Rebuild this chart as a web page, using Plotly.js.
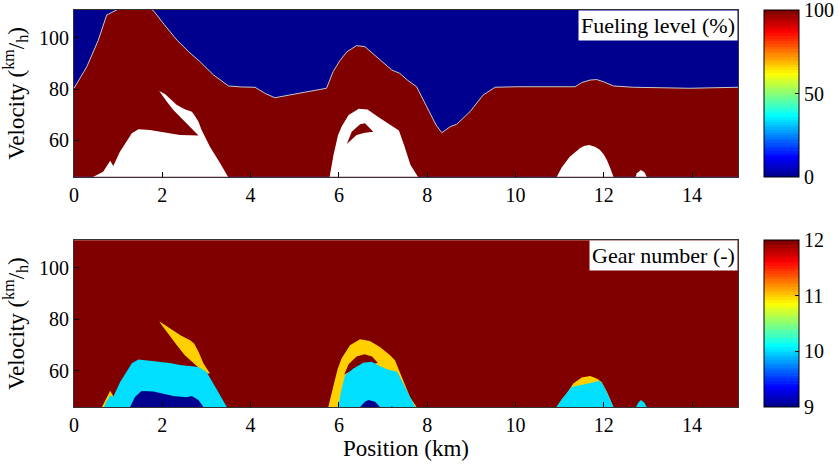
<!DOCTYPE html>
<html><head><meta charset="utf-8">
<script src="https://cdn.plot.ly/plotly-3.0.1.min.js"></script>
<style>html,body{margin:0;padding:0;background:#fff}
#chart text{font-family:'Liberation Serif' !important}</style>
</head><body><div id="chart" style="width:839px;height:464px"></div>
<script>
// ---------- data (position km, velocity km/h) ----------
const xTicks = [0, 2, 4, 6, 8, 10, 12, 14];
const yTicks = [60, 80, 100];
const fuelTicks = [0, 50, 100];
const gearTicks = [9, 10, 11, 12];
const fuelLevels = [0, 100];          // fueling level: 0 above edge, 100 below
const gearLevels = [9, 10, 11, 12];

// upper edge of the 100 % fueling region
const fuelEdgePos = [0, 0.29, 0.55, 0.74, 0.93, 1.1, 1.3, 1.5, 1.7, 1.8, 2.05, 2.33, 2.6, 2.85, 3.16, 3.5, 3.8, 4.1, 4.33, 4.55, 4.89, 5.3, 5.72, 5.87, 6.02, 6.18, 6.4, 6.59, 6.86, 7.2, 7.38, 7.55, 7.76, 8.06, 8.2, 8.33, 8.52, 8.67, 8.97, 9.27, 9.54, 10.03, 11.35, 11.5, 11.69, 11.84, 12.0, 12.22, 12.67, 13.3, 13.95, 14.5, 15.05];
const fuelEdgeVel = [80.3, 88.7, 99.0, 108.8, 110.5, 112, 113, 113, 111.5, 110.5, 105, 99.1, 94.5, 90.7, 85.5, 81.2, 80.8, 80.7, 78.3, 76.6, 77.7, 79.0, 80.3, 86.8, 91.0, 94.5, 96.9, 96.5, 92.6, 87.4, 86.1, 83.5, 80.9, 70.5, 66.0, 63.0, 65.3, 66.3, 71.2, 77.7, 80.7, 80.9, 80.9, 82.5, 83.5, 83.7, 82.8, 81.2, 80.7, 80.5, 80.3, 80.5, 80.7];

// infeasible (blank) regions in the fueling map
const blankAPos = [0.40, 0.44, 0.66, 0.82, 0.89, 1.04, 1.31, 1.46, 1.72, 2.17, 2.40, 2.82, 2.63, 2.44, 2.25, 2.10, 1.95, 1.93, 2.06, 2.17, 2.33, 2.51, 2.67, 2.74, 2.82, 2.89, 3.08, 3.31, 3.50, 3.55];
const blankAVel = [44, 45.8, 47.8, 52.1, 50.0, 55.6, 62.8, 64.3, 64.0, 62.8, 62.1, 61.9, 65.3, 68.6, 71.8, 75.1, 78.6, 79.2, 78.1, 76.4, 73.8, 72.1, 71.2, 69.5, 67.3, 64.0, 57.5, 51.1, 45.8, 44];
const blankBPos = [5.76, 5.79, 5.88, 5.98, 6.06, 6.22, 6.45, 6.65, 6.90, 7.18, 7.36, 7.48, 7.62, 7.79, 7.82];
const blankBVel = [44, 45.8, 54.5, 62.0, 65.3, 69.9, 72.3, 72.0, 69.0, 66.0, 63.8, 58.0, 50.5, 45.8, 44];
const fullBPos = [6.18, 6.29, 6.48, 6.59, 6.78, 6.59, 6.40];
const fullBVel = [58.6, 63.4, 66.3, 66.7, 63.4, 63.0, 62.1];
const blankCPos = [10.88, 10.93, 11.05, 11.23, 11.35, 11.46, 11.55, 11.67, 11.8, 11.91, 12.0, 12.07, 12.15, 12.22, 12.26];
const blankCVel = [44, 45.8, 49.5, 53.6, 55.5, 56.9, 57.8, 58.2, 57.5, 56.3, 54.5, 52.4, 49.0, 45.8, 44];
const blankDPos = [12.68, 12.75, 12.84, 12.92, 13.03];
const blankDVel = [44, 47.2, 48.5, 47.6, 44];

// gear map: regions of gear 11, 10, 9 (rest is gear 12)
const gear11LipPos = [0.58, 0.82, 0.89, 0.92];
const gear11LipVel = [44, 52.1, 50.0, 44];
const gear11APos = [1.93, 2.10, 2.41, 2.63, 2.72, 2.82, 2.93, 3.08, 3.00, 2.82, 2.67, 2.51, 2.33, 2.14, 1.99];
const gear11AVel = [79.2, 77.3, 73.8, 71.8, 70.5, 67.3, 62.8, 58.9, 58.9, 61.2, 63.4, 66.0, 69.9, 74.4, 77.7];
const gear10APos = [0.64, 0.72, 0.82, 0.89, 1.04, 1.31, 1.46, 1.72, 2.17, 2.40, 2.82, 3.00, 3.16, 3.31, 3.46, 3.50];
const gear10AVel = [44, 47.5, 50.3, 49.8, 55.3, 62.8, 64.3, 63.8, 62.9, 62.2, 61.4, 59.5, 55.0, 50.4, 45.8, 44];
const gear9APos = [1.25, 1.27, 1.38, 1.53, 1.80, 2.02, 2.25, 2.55, 2.67, 2.82, 2.93, 2.95];
const gear9AVel = [44, 45.8, 49.7, 52.0, 51.8, 51.1, 50.1, 49.6, 50.1, 48.5, 45.8, 44];
const gear11BPos = [5.74, 5.76, 5.87, 5.97, 6.06, 6.25, 6.48, 6.70, 6.93, 7.16, 7.27, 7.46, 7.61, 7.76, 7.79];
const gear11BVel = [44, 45.8, 53.6, 60.5, 64.7, 69.9, 72.2, 71.5, 69.2, 66.0, 64.0, 56.3, 49.7, 45.8, 44];
const gear12BPos = [6.12, 6.22, 6.40, 6.58, 6.75, 6.88, 6.70, 6.45, 6.25];
const gear12BVel = [58.5, 62.5, 65.5, 66.4, 65.5, 63.0, 62.0, 61.0, 59.5];
const gear10BPos = [5.97, 6.05, 6.14, 6.33, 6.55, 6.74, 6.97, 7.16, 7.32, 7.42, 7.57, 7.73, 7.76];
const gear10BVel = [44, 52.0, 58.2, 60.8, 63.0, 63.4, 61.4, 60.1, 59.5, 56.3, 51.1, 45.8, 44];
const gear9BPos = [6.45, 6.48, 6.59, 6.67, 6.82, 6.93, 6.96];
const gear9BVel = [44, 45.8, 47.8, 48.5, 47.8, 45.8, 44];
const gear9B2Pos = [7.14, 7.20, 7.28];
const gear9B2Vel = [44, 46.3, 44];
const gear11CPos = [10.88, 10.93, 11.05, 11.16, 11.31, 11.50, 11.69, 11.84, 11.95, 12.07, 12.15, 12.22, 12.26];
const gear11CVel = [44, 45.8, 48.8, 51.1, 55.0, 57.3, 57.9, 56.9, 55.5, 51.7, 48.5, 45.8, 44];
const gear10CPos = [10.88, 10.93, 11.05, 11.16, 11.27, 11.6, 11.91, 12.0, 12.07, 12.15, 12.22, 12.26];
const gear10CVel = [44, 45.8, 48.8, 51.1, 53.6, 54.8, 56.0, 54.0, 51.7, 48.5, 45.8, 44];
const gear10DPos = [12.68, 12.78, 12.84, 12.92, 13.03];
const gear10DVel = [44, 47.5, 48.5, 47.5, 44];

// ---------- MATLAB jet(64) ----------
function jet64(i) {
  const n = 16, u = [];
  for (let k = 1; k <= n; k++) u.push(k / n);
  for (let k = 0; k < n - 1; k++) u.push(1);
  for (let k = n; k >= 1; k--) u.push(k / n);
  const idx = i + 1;
  const pick = j => (j >= 1 && j <= u.length) ? u[j - 1] : 0;
  const r = pick(idx - 24), g = pick(idx - 8), b = pick(idx + 8);
  return 'rgb(' + Math.round(r * 255) + ',' + Math.round(g * 255) + ',' + Math.round(b * 255) + ')';
}
const jetScale = [];
for (let k = 0; k < 64; k++) { jetScale.push([k / 64, jet64(k)]); jetScale.push([(k + 1) / 64 - 1e-6, jet64(k)]); }
jetScale[jetScale.length - 1][0] = 1;
function levelColor(v, lo, hi) { return jet64(Math.round((v - lo) / (hi - lo) * 63)); }

const SERIF = 'Liberation Serif';
const fuel0 = levelColor(fuelLevels[0], 0, 100), fuel100 = levelColor(fuelLevels[1], 0, 100);
const g9 = levelColor(9, 9, 12), g10 = levelColor(10, 9, 12), g11 = levelColor(11, 9, 12), g12 = levelColor(12, 9, 12);

function poly(xs, ys, color, ax) {
  return {x: xs, y: ys, type: 'scatter', mode: 'lines', fill: 'toself', fillcolor: color,
    line: {width: 0, color: color}, xaxis: ax[0], yaxis: ax[1], hoverinfo: 'skip', showlegend: false};
}
const TOP = ['x', 'y'], BOT = ['x2', 'y2'];
const cbBase = {x: 1.0392, xanchor: 'left', xref: 'paper', yref: 'paper', len: 0.4202, lenmode: 'fraction',
  thickness: 35, thicknessmode: 'pixels', xpad: 0, ypad: 0, outlinewidth: 1, outlinecolor: '#000',
  ticks: 'inside', ticklen: 4, tickcolor: '#000', ticklabeloverflow: 'allow',
  tickfont: {family: SERIF, size: 20}};

const traces = [
  {x: fuelEdgePos, y: fuelEdgeVel, type: 'scatter', mode: 'lines', fill: 'tozeroy', fillcolor: fuel100,
   line: {color: 'rgb(200,200,200)', width: 1}, xaxis: 'x', yaxis: 'y', hoverinfo: 'skip', showlegend: false},
  poly(blankAPos, blankAVel, '#ffffff', TOP),
  poly(blankBPos, blankBVel, '#ffffff', TOP),
  poly(fullBPos, fullBVel, fuel100, TOP),
  poly(blankCPos, blankCVel, '#ffffff', TOP),
  poly(blankDPos, blankDVel, '#ffffff', TOP),
  {x: fuelEdgePos.slice(0, 2), y: fuelEdgeVel.slice(0, 2), type: 'scatter', mode: 'markers', xaxis: 'x', yaxis: 'y',
   hoverinfo: 'skip', showlegend: false,
   marker: {size: 1, opacity: 0, color: fuelLevels, cmin: 0, cmax: 100, colorscale: jetScale, showscale: true,
     colorbar: Object.assign({}, cbBase, {y: 1, yanchor: 'top', tickvals: fuelTicks})}},

  poly(gear11LipPos, gear11LipVel, g11, BOT),
  poly(gear11APos, gear11AVel, g11, BOT),
  poly(gear10APos, gear10AVel, g10, BOT),
  poly(gear9APos, gear9AVel, g9, BOT),
  poly(gear11BPos, gear11BVel, g11, BOT),
  poly(gear12BPos, gear12BVel, g12, BOT),
  poly(gear10BPos, gear10BVel, g10, BOT),
  poly(gear9BPos, gear9BVel, g9, BOT),
  poly(gear9B2Pos, gear9B2Vel, g9, BOT),
  poly(gear11CPos, gear11CVel, g11, BOT),
  poly(gear10CPos, gear10CVel, g10, BOT),
  poly(gear10DPos, gear10DVel, g10, BOT),
  {x: fuelEdgePos.slice(0, 4), y: fuelEdgeVel.slice(0, 4), type: 'scatter', mode: 'markers', xaxis: 'x2', yaxis: 'y2',
   hoverinfo: 'skip', showlegend: false,
   marker: {size: 1, opacity: 0, color: gearLevels, cmin: 9, cmax: 12, colorscale: jetScale, showscale: true,
     colorbar: Object.assign({}, cbBase, {y: 0, yanchor: 'bottom', tickvals: gearTicks})}}
];

const xAxisBase = {range: [0, 15.04], tickvals: xTicks, ticks: 'inside', ticklen: 5, tickcolor: '#000',
  showline: true, linecolor: '#333', linewidth: 1, mirror: true, showgrid: false, zeroline: false,
  tickfont: {family: SERIF, size: 20}};
const yAxisBase = {range: [45.8, 110.8], tickvals: yTicks, ticks: 'inside', ticklen: 5, tickcolor: '#000',
  showline: true, linecolor: '#333', linewidth: 1, mirror: true, showgrid: false, zeroline: false,
  tickfont: {family: SERIF, size: 20},
  title: {text: 'Velocity (<sup>km</sup>/<sub>h</sub>)', font: {family: SERIF, size: 23}, standoff: 8}};

const layout = {
  width: 839, height: 464,
  font: {family: SERIF, size: 20, color: '#000'},
  margin: {l: 74, r: 101, t: 10, b: 57, autoexpand: false},
  paper_bgcolor: '#fff', plot_bgcolor: '#fff',
  showlegend: false,
  xaxis: Object.assign({}, xAxisBase, {domain: [0, 1], anchor: 'y'}),
  yaxis: Object.assign({}, yAxisBase, {domain: [0.5798, 1], anchor: 'x'}),
  xaxis2: Object.assign({}, xAxisBase, {domain: [0, 1], anchor: 'y2',
    title: {text: 'Position (km)', font: {family: SERIF, size: 23}, standoff: 4}}),
  yaxis2: Object.assign({}, yAxisBase, {domain: [0, 0.4202], anchor: 'x2'}),
  shapes: [
    {type: 'rect', xref: 'x domain', yref: 'y domain', x0: 0, x1: 1, y0: 0, y1: 1, fillcolor: fuel0, line: {width: 0}, layer: 'below'},
    {type: 'rect', xref: 'x2 domain', yref: 'y2 domain', x0: 0, x1: 1, y0: 0, y1: 1, fillcolor: g12, line: {width: 0}, layer: 'below'}
  ],
  annotations: [
    {text: 'Fueling level (%)', xref: 'paper', yref: 'paper', x: 1, y: 1, xanchor: 'right', yanchor: 'top',
     showarrow: false, bgcolor: '#fff', borderpad: 2, font: {family: SERIF, size: 22}},
    {text: 'Gear number (-)', xref: 'paper', yref: 'paper', x: 1, y: 0.4202, xanchor: 'right', yanchor: 'top',
     showarrow: false, bgcolor: '#fff', borderpad: 2, font: {family: SERIF, size: 22}}
  ]
};

Plotly.newPlot('chart', traces, layout, {displayModeBar: false});
</script></body></html>
